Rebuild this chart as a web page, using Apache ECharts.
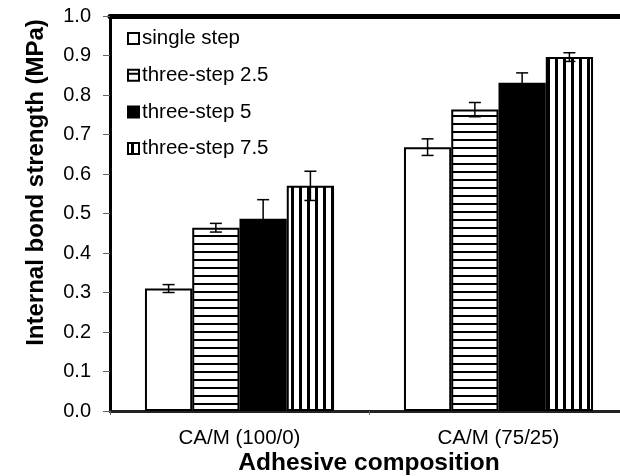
<!DOCTYPE html>
<html>
<head>
<meta charset="utf-8">
<script src="https://cdn.jsdelivr.net/npm/echarts@6/dist/echarts.min.js"></script>
<style>html,body{margin:0;padding:0;background:#fff;}#main{width:620px;height:476px;}</style>
</head>
<body>
<div id="main"></div>
<script>
const categories = ['CA/M (100/0)', 'CA/M (75/25)'];
const seriesNames = ['single step', 'three-step 2.5', 'three-step 5', 'three-step 7.5'];
const singleStep = [0.310, 0.668];
const threeStep25 = [0.464, 0.763];
const threeStep5 = [0.487, 0.831];
const threeStep75 = [0.570, 0.896];
const errSingle = [0.010, 0.021];
const errThree25 = [0.011, 0.018];
const errThree5 = [0.048, 0.025];
const errThree75 = [0.037, 0.011];
const yMin = 0, yMax = 1, yStep = 0.1;

const FONT = 'Liberation Sans, Arial, sans-serif';
const GAP = 0.27;

function stripe(dir) {
  const c = document.createElement('canvas');
  c.width = 8; c.height = 8;
  const ctx = c.getContext('2d');
  ctx.fillStyle = '#fff'; ctx.fillRect(0, 0, 8, 8);
  ctx.fillStyle = '#000';
  if (dir === 'h') ctx.fillRect(0, 3, 8, 2); else ctx.fillRect(3, 0, 3, 8);
  return c;
}
const fills = [
  '#ffffff',
  { image: stripe('h'), repeat: 'repeat' },
  '#000000',
  { image: stripe('v'), repeat: 'repeat' }
];
const values = [singleStep, threeStep25, threeStep5, threeStep75];
const errors = [errSingle, errThree25, errThree5, errThree75];

const barSeries = seriesNames.map((name, i) => ({
  name: name,
  type: 'bar',
  xAxisIndex: 0,
  data: values[i],
  barGap: '0%',
  barCategoryGap: (GAP * 100) + '%',
  itemStyle: { color: fills[i], borderColor: '#000', borderWidth: 2 },
  emphasis: { disabled: true },
  z: 2
}));

const errData = [];
values.forEach((arr, s) => arr.forEach((v, ci) => errData.push([ci, v, errors[s][ci], s])));

const errSeries = {
  type: 'custom',
  xAxisIndex: 0,
  z: 5,
  silent: true,
  encode: { x: 0, y: 1 },
  data: errData,
  renderItem: function (params, api) {
    const ci = api.value(0), v = api.value(1), e = api.value(2), s = api.value(3);
    const center = api.coord([ci, 0])[0];
    const band = api.size([1, 0])[0];
    const bw = band * (1 - GAP) / 4;
    const x = center + (s - 1.5) * bw;
    const yT = api.coord([ci, v + e])[1];
    const yB = api.coord([ci, v - e])[1];
    const cap = 6;
    const st = { stroke: '#000', lineWidth: 1.5 };
    return {
      type: 'group',
      children: [
        { type: 'line', shape: { x1: x, y1: yT, x2: x, y2: yB }, style: st },
        { type: 'line', shape: { x1: x - cap, y1: yT, x2: x + cap, y2: yT }, style: st },
        { type: 'line', shape: { x1: x - cap, y1: yB, x2: x + cap, y2: yB }, style: st }
      ]
    };
  }
};

const chart = echarts.init(document.getElementById('main'), null, { renderer: 'canvas' });
chart.setOption({
  animation: false,
  backgroundColor: '#fff',
  textStyle: { fontFamily: FONT },
  grid: { left: 110, right: -8, top: 16, bottom: 65, containLabel: false, outerBoundsMode: 'none' },
  legend: {
    orient: 'vertical',
    left: 122, top: 23,
    icon: 'rect',
    itemWidth: 11, itemHeight: 11,
    itemGap: 15.7,
    data: seriesNames,
    textStyle: { fontSize: 20.5, color: '#000', fontFamily: FONT, padding: [0, 0, 0, -2] },
    selectedMode: false
  },
  xAxis: [{
    type: 'category',
    data: categories,
    position: 'bottom',
    axisLine: { lineStyle: { color: '#222', width: 3 } },
    axisTick: { show: true, length: 4, lineStyle: { color: '#666', width: 1 } },
    axisLabel: { fontSize: 20.5, color: '#000', margin: 17, fontFamily: FONT },
    name: 'Adhesive composition',
    nameLocation: 'middle',
    nameMoveOverlap: false,
    nameGap: 40,
    nameTextStyle: { fontSize: 24.5, fontWeight: 'bold', color: '#000', fontFamily: FONT }
  }, {
    type: 'category',
    data: categories,
    position: 'top',
    axisLine: { lineStyle: { color: '#000', width: 5 } },
    axisTick: { show: false },
    axisLabel: { show: false }
  }],
  yAxis: {
    type: 'value',
    min: yMin, max: yMax, interval: yStep,
    axisLine: { show: true, lineStyle: { color: '#000', width: 3 } },
    axisTick: { show: true, length: 7, lineStyle: { color: '#666', width: 1 } },
    axisLabel: { fontSize: 20, color: '#000', margin: 19, fontFamily: FONT, formatter: v => v.toFixed(1) },
    splitLine: { show: false },
    name: 'Internal bond strength (MPa)',
    nameLocation: 'middle',
    nameMoveOverlap: false,
    nameGap: 62,
    nameTextStyle: { fontSize: 24, fontWeight: 'bold', color: '#000', fontFamily: FONT, padding: [0, 0, 0, 62] }
  },
  series: barSeries.concat([errSeries])
});
</script>
</body>
</html>
